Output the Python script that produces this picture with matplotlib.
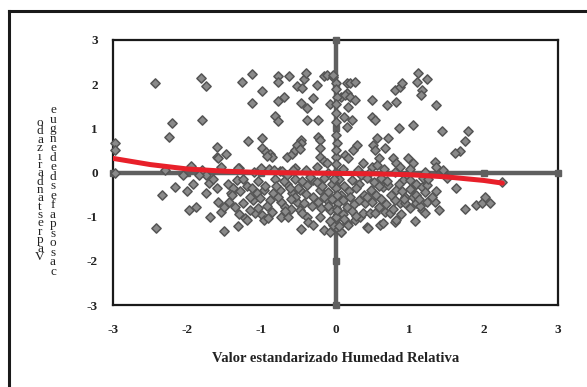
import matplotlib
matplotlib.use("Agg")
import matplotlib.pyplot as plt
from matplotlib.lines import Line2D

# ---------------- data ----------------
tick_values = [-3, -2, -1, 0, 1, 2, 3]
tick_labels = ["-3", "-2", "-1", "0", "1", "2", "3"]
xlabel_text = "Valor estandarizado Humedad Relativa"
ylabel_col1 = list("odazıradnatserpaV")
ylabel_col2 = list("eugnededsefapsosac")

# upper sparse points
x_upper = [-2.44, -1.81, -1.75, -1.26, -1.12, -0.99, -1.12, -0.78, -0.77, -0.63,
           -0.52, -0.43, -0.40, -0.45, -0.77, -0.69, -0.47, -0.38, -0.30, -0.25,
           -0.16, -0.11, -0.03, -0.07, -0.82, -0.78, -0.39, -0.23, -2.21, -2.25,
           -1.80, -1.18, -0.99, -0.47, -0.46, -0.23, -0.21, -1.60, -1.60, -1.58,
           -1.47, -0.99, -0.94, -0.88, -0.85, -0.93, -0.66, -0.59, -0.55, -0.52,
           -0.48, -0.21, -0.16, -0.12, -0.21, -2.97, -2.97, -2.97,
           0.15, 0.15, 0.17, 0.15, 0.20, 0.26, 0.08, 0.13, 0.20, 0.26,
           0.11, 0.22, 0.49, 0.49, 0.53, 0.70, 0.82, 0.80, 0.87, 0.89,
           1.11, 1.10, 1.24, 1.17, 1.15, 1.35, 0.85, 1.05, 1.44, 1.78,
           1.74, 1.68, 1.61, 0.71, 0.67, 0.56, 0.51, 0.53, 0.13, 0.24,
           0.29, 0.17, 0.37, 0.49, 0.58, 0.56, 0.78, 0.82, 0.87, 0.98,
           1.05, 1.34, 1.36, -0.03]
y_upper = [2.03, 2.13, 1.96, 2.06, 2.22, 1.85, 1.58, 2.18, 2.06, 2.18,
           1.96, 2.11, 2.25, 1.91, 1.62, 1.72, 1.58, 1.45, 1.68, 1.98,
           2.18, 2.21, 2.17, 1.55, 1.28, 1.17, 1.20, 1.20, 1.13, 0.81,
           1.20, 0.71, 0.79, 0.74, 0.67, 0.80, 0.74, 0.58, 0.36, 0.32,
           0.43, 0.55, 0.47, 0.43, 0.34, 0.37, 0.36, 0.43, 0.51, 0.62,
           0.53, 0.36, 0.27, 0.21, 0.55, 0.66, 0.51, 0.00,
           2.02, 1.79, 1.49, 1.04, 2.02, 2.06, 1.72, 1.75, 1.72, 1.64,
           1.26, 1.19, 1.64, 1.26, 1.20, 1.53, 1.60, 1.87, 1.94, 2.02,
           2.25, 2.06, 2.12, 1.87, 1.75, 1.53, 1.01, 1.08, 0.95, 0.94,
           0.71, 0.49, 0.45, 0.77, 0.55, 0.77, 0.62, 0.51, 0.40, 0.51,
           0.62, 0.32, 0.21, 0.13, 0.32, 0.17, 0.32, 0.21, 0.13, 0.32,
           0.21, 0.24, 0.13, 2.21]

# points lying on the vertical axis line
x_axis_pts = [0.00, 0.02, 0.00, 0.02, 0.00, 0.00, 0.01, 0.00, 0.01, 0.00,
              0.00, 0.00, 0.01, 0.00, 0.02, 0.00]
y_axis_pts = [2.02, 1.72, 1.34, 0.66, 0.36, 1.90, 1.15, 0.85, 0.50, 0.20,
              -0.30, -0.55, -0.80, -1.05, -1.25, 1.55]

# points near the zero line
x_zero = [-1.80, -1.55, -1.30, -1.10, -0.90, -0.75, -0.55, -0.40, -0.25, -0.10,
          0.10, 0.30, 0.45, 0.65, 0.80, 1.00, 1.20, 1.45, -2.30, -2.05,
          -1.95, 0.95, 1.50, -0.65, 0.35, -1.31, -1.01, -0.83, -0.72, -0.57,
          -1.75, 2.24]
y_zero = [0.05, 0.12, 0.10, 0.02, 0.08, 0.03, 0.10, 0.05, 0.12, 0.00,
          0.08, 0.05, 0.00, 0.08, 0.02, 0.07, 0.02, 0.06, 0.05, -0.05,
          0.15, -0.05, -0.12, -0.05, -0.05, 0.10, 0.10, 0.06, 0.04, 0.06,
          -0.06, -0.21]

# lower dense cluster
x_lower = [-2.42, -2.34, -2.16, -2.00, -1.92, -1.98, -1.88, -1.74, -1.71, -1.84,
           -1.69, -1.58, -1.55, -1.50, -1.51, -1.31, -1.22, -1.20, -1.44, -1.41,
           -1.35, -1.33, -1.29, -1.20, -1.13, -1.06, -1.11, -1.08, -0.99, -0.97,
           -0.91, -1.02, -0.97, -0.88, -0.84, -0.73, -0.64, -0.73, -0.68, -0.75,
           -0.66, -0.59, -0.52, -0.48, -0.46, -0.39, -0.37, -0.30, -0.48, -0.39,
           -0.30, -0.21, -0.23, -0.12, -0.07, -0.21, -0.16, -0.07, -0.03, 0.00,
           0.08, 0.15, 0.08, 0.17, 0.26, 0.42, 0.44, 0.60, 0.64, 0.80,
           0.82, 1.07, 0.33, 0.37, 0.46, 0.53, 0.40, 0.49, 0.67, 0.73,
           0.87, 0.94, 0.80, 0.94, 1.05, 1.09, 1.09, 1.16, 1.21, 1.14,
           1.23, 1.34, 1.39, 1.36, 1.63, 1.75, 1.90, 1.97, 2.01, 2.08,
           1.05, 1.09, 1.16, 1.18, 1.23, 0.64, 0.71, 0.82, 0.89, 0.91,
           1.00,
           -0.55, -0.45, -0.35, -0.25, -0.15, -0.05, 0.05, 0.12, 0.22, 0.32,
           0.42, 0.52, -0.50, -0.40, -0.30, -0.18, -0.10, 0.00, 0.08, 0.18,
           0.28, 0.38, 0.48, 0.58, -0.55, -0.42, -0.32, -0.15, -0.05, 0.03,
           0.10, 0.20, 0.25, 0.32, 0.42, 0.55, -0.60, -0.45, -0.20, -0.10,
           0.02, 0.10, 0.15, 0.22, 0.28, 0.12, -0.08, 0.05, 0.02, -0.02,
           0.62, 0.70, 0.75, 0.62, 0.68, 0.78, 0.85, 0.92, 1.00, 1.00,
           1.12, 1.20, 1.25, 1.30, 0.58, 0.88,
           -1.45, -1.38, -1.25, -1.15, -1.05, -0.95, -0.92, -0.82, -0.80, -0.78,
           -0.70, -0.68, -0.62, -0.60, -1.25, -1.15, -0.85, -1.60, -1.65, -1.40,
           -1.30, -1.05]
y_lower = [-1.25, -0.51, -0.32, -0.43, -0.25, -0.85, -0.79, -0.46, -0.23, -0.06,
           -1.00, -0.66, -0.89, -0.79, -1.32, -1.21, -1.04, -1.08, -0.66, -0.46,
           -0.77, -0.17, -0.43, -0.31, -0.36, -0.47, -0.62, -0.92, -0.96, -1.08,
           -1.04, -0.58, -0.40, -0.62, -0.47, -1.00, -1.00, -0.66, -0.77, -0.40,
           -0.25, -0.47, -0.66, -0.85, -1.29, -1.00, -1.11, -1.19, -0.40, -0.28,
           -0.17, -0.40, -0.66, -0.62, -0.85, -1.00, -1.30, -1.34, -1.19, -1.00,
           -1.34, -1.15, -1.34, -1.19, -1.08, -1.23, -1.26, -1.19, -1.15, -1.11,
           -1.08, -1.10, -1.00, -0.92, -0.92, -0.92, -0.70, -0.66, -0.89, -0.92,
           -0.70, -0.70, -0.62, -0.55, -0.55, -0.51, -0.70, -0.85, -0.92, -0.76,
           -0.66, -0.66, -0.85, -0.43, -0.36, -0.83, -0.74, -0.70, -0.55, -0.70,
           -0.32, -0.25, -0.32, -0.13, -0.28, -0.32, -0.28, -0.40, -0.43, -0.17,
           -0.17,
           -0.15, -0.20, -0.10, -0.22, -0.12, -0.25, -0.15, -0.30, -0.18, -0.25,
           -0.12, -0.22, -0.35, -0.48, -0.55, -0.30, -0.45, -0.35, -0.50, -0.42,
           -0.35, -0.50, -0.40, -0.30, -0.55, -0.70, -0.75, -0.55, -0.60, -0.70,
           -0.62, -0.55, -0.72, -0.62, -0.55, -0.50, -0.82, -0.92, -0.80, -0.75,
           -0.85, -0.95, -0.78, -0.88, -0.98, -1.05, -1.10, -1.20, -0.50, -0.15,
           -0.12, -0.20, -0.50, -0.60, -0.72, -0.82, -0.25, -0.60, -0.38, -0.80,
           -0.60, -0.45, -0.15, -0.55, -0.78, -0.95,
           -0.25, -0.35, -0.15, -0.55, -0.20, -0.30, -0.75, -0.15, -0.30, -0.55,
           -0.20, -0.88, -0.35, -0.60, -0.70, -0.85, -0.90, -0.35, -0.15, -0.50,
           -0.95, -0.80]

# trend curve
trend_x = [-3.0, -2.5, -2.0, -1.5, -1.0, -0.5, 0.0, 0.5, 1.0, 1.5, 2.0, 2.25]
trend_y = [0.32, 0.18, 0.08, 0.03, 0.00, -0.01, -0.02, -0.03, -0.05, -0.10, -0.18, -0.24]

# ---------------- plot ----------------
W, H = 587, 387
fig = plt.figure(figsize=(W / 100, H / 100), dpi=100)
fig.patch.set_facecolor("white")

# outer frame (cropped)
fig.add_artist(Line2D([9 / W, 9 / W], [0, 1 - 11 / H], transform=fig.transFigure,
                      color="#1a1a1a", lw=2.2))
fig.add_artist(Line2D([9 / W, 1.0], [1 - 11 / H, 1 - 11 / H], transform=fig.transFigure,
                      color="#1a1a1a", lw=2.2))

left, right, top, bottom = 113, 558, 40, 305
ax = fig.add_axes([left / W, 1 - bottom / H, (right - left) / W, (bottom - top) / H])
ax.set_xlim(-3, 3)
ax.set_ylim(-3, 3)

axis_col = "#5f5f5f"
ax.axhline(0, color=axis_col, lw=3.2, zorder=2)
ax.axvline(0, color=axis_col, lw=3.2, zorder=2)
ax.plot(tick_values, [0] * len(tick_values), ls="none", marker="s", ms=5,
        color=axis_col, zorder=2, clip_on=False)
ax.plot([0] * len(tick_values), tick_values, ls="none", marker="s", ms=5,
        color=axis_col, zorder=2, clip_on=False)

xs = x_upper + x_axis_pts + x_zero + x_lower
ys = y_upper + y_axis_pts + y_zero + y_lower
ax.scatter(xs, ys, marker="D", s=22, facecolor="#8a8a8a", edgecolor="#555555",
           linewidths=1.1, zorder=3, clip_on=False)

ax.plot(trend_x, trend_y, color="#e8202a", lw=3.6, solid_capstyle="round", zorder=4)

for s in ax.spines.values():
    s.set_color("#1a1a1a")
    s.set_linewidth(1.6)
    s.set_zorder(1)

serif = ["Liberation Serif", "DejaVu Serif"]
ax.set_xticks(tick_values)
ax.set_yticks(tick_values)
ax.set_xticklabels(tick_labels, fontfamily=serif, fontsize=9.5, fontweight="bold", color="#222222")
ax.set_yticklabels(tick_labels, fontfamily=serif, fontsize=9.5, fontweight="bold", color="#222222")
ax.tick_params(axis="both", length=0)
ax.tick_params(axis="x", pad=14)
ax.tick_params(axis="y", pad=11)

fig.text((left + right) / 2 / W, 1 - 358 / H, xlabel_text, ha="center", va="center",
         fontfamily=serif, fontsize=10.5, fontweight="bold", color="#222222")

# stacked y-label characters
y0, step = 123, (257 - 123) / (len(ylabel_col1) - 1)
for i, ch in enumerate(ylabel_col1):
    fig.text(40 / W, 1 - (y0 + i * step) / H, ch, ha="center", va="center",
             fontfamily=serif, fontsize=9.5, color="#222222")
y0, step = 110, (272 - 110) / (len(ylabel_col2) - 1)
for i, ch in enumerate(ylabel_col2):
    fig.text(53 / W, 1 - (y0 + i * step) / H, ch, ha="center", va="center",
             fontfamily=serif, fontsize=9.5, color="#222222")

fig.savefig("out.png", dpi=100)
